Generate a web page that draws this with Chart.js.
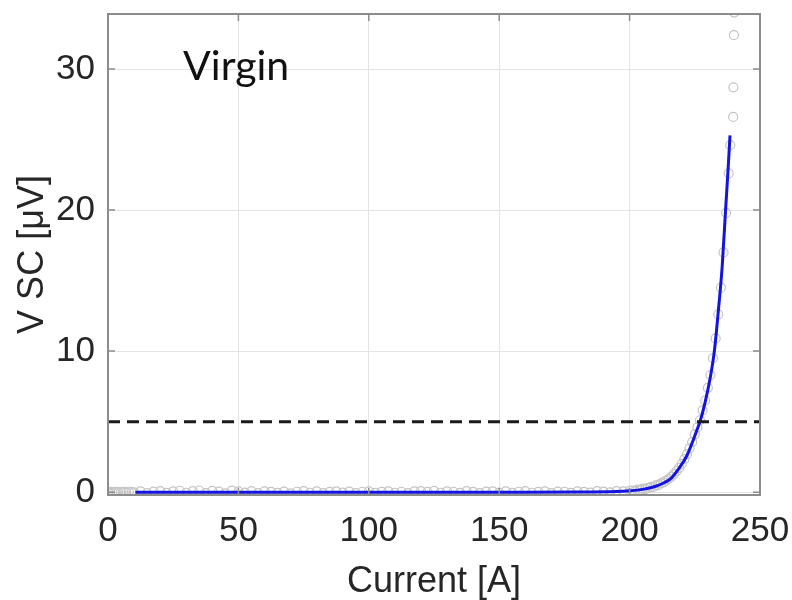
<!DOCTYPE html>
<html>
<head>
<meta charset="utf-8">
<script src="https://cdn.jsdelivr.net/npm/chart.js@4.4.1/dist/chart.umd.min.js"></script>
<style>
    html, body { margin: 0; padding: 0; background: #ffffff; }
    #wrap { width: 792px; height: 600px; }
</style>
</head>
<body>
<div id="wrap"><canvas id="vscChart" width="792" height="600"></canvas></div>
<script>
// Measured points (grey circles)
const measI = [
    0, 0.8, 1.6, 2.4, 3.2, 4, 5, 6, 7, 8, 9, 10,
    12.5, 15, 17.5, 20, 22.5, 25, 27.5, 30, 32.5, 35, 37.5, 40, 42.5, 45, 47.5, 50,
    52.5, 55, 57.5, 60, 62.5, 65, 67.5, 70, 72.5, 75, 77.5, 80, 82.5, 85, 87.5, 90,
    92.5, 95, 97.5, 100, 102.5, 105, 107.5, 110, 112.5, 115, 117.5, 120, 122.5, 125,
    127.5, 130, 132.5, 135, 137.5, 140, 142.5, 145, 147.5, 150, 152.5, 155, 157.5, 160,
    162.5, 165, 167.5, 170, 172.5, 175, 177.5, 180, 182.5, 185, 187.5, 190, 192.5, 195,
    197.5, 200,
    201, 202, 203, 204, 205, 206, 207, 208, 209, 210, 211, 212, 213, 214, 215, 216,
    217, 218, 219, 220, 221, 222, 223, 224, 225, 226, 227, 228, 229, 230, 231, 232,
    233, 234, 235, 236, 237, 238, 238.6, 239.7, 239.8, 240, 240.1
];
const measV = [
    0.0, 0.02, -0.03, 0.01, 0.03, -0.02, 0.0, 0.02, -0.04, 0.03, 0.0, -0.02,
    0.05, -0.06, 0.04, 0.08, -0.05, 0.06, 0.1, -0.04, 0.07, 0.12, -0.06, 0.09, 0.04, -0.08, 0.11, 0.05,
    -0.03, 0.08, -0.07, 0.06, 0.02, -0.05, 0.04, -0.09, 0.03, 0.07, -0.04, 0.05, -0.06, 0.02, 0.06, -0.03,
    0.04, -0.07, 0.03, 0.05, -0.05, 0.02, 0.06, -0.04, 0.03, -0.06, 0.05, 0.08, 0.02, 0.09,
    -0.04, 0.06, 0.03, -0.05, 0.07, 0.02, -0.06, 0.04, 0.05, -0.03, 0.06, -0.05, 0.03, 0.07,
    -0.04, 0.02, 0.05, -0.06, 0.04, 0.03, -0.05, 0.06, 0.02, -0.03, 0.07, 0.04, -0.02, 0.08,
    0.05, 0.1,
    0.12, 0.08, 0.18, 0.15, 0.25, 0.22, 0.3, 0.36, 0.35, 0.48, 0.5, 0.62, 0.7, 0.82, 0.95, 1.1,
    1.28, 1.5, 1.72, 2.0, 2.35, 2.7, 3.1, 3.55, 4.1, 4.6, 5.1, 5.8, 6.5, 7.4, 8.3, 9.5,
    10.9, 12.6, 14.5, 17.0, 19.8, 22.6, 24.6, 26.6, 28.7, 32.4, 34.0
];

// Fit curve (blue line)
const fitI = [10.5, 50, 100, 150, 180, 195, 200, 205, 210, 213, 216, 219, 222, 224, 226, 227, 229, 231, 232.5, 234, 235.5, 236.8, 237.8, 238.5];
const fitV = [0, 0, 0, 0, 0.01, 0.05, 0.1, 0.2, 0.42, 0.65, 1.0, 1.7, 2.6, 3.5, 4.5, 5.0, 6.4, 8.2, 10.0, 12.8, 16.0, 20.0, 23.0, 25.3];

// 5 uV criterion (dashed)
const critI = [0, 250];
const critV = [5, 5];

// Axis ticks
const xTicks = [0, 50, 100, 150, 200, 250];
const yTicks = [0, 10, 20, 30];

const TEXT_COLOR = '#262626';
const BOX_COLOR = '#8c8c8c';
const TICK_FONT = { family: 'Liberation Sans', size: 35 };
const TITLE_FONT = { family: 'Liberation Sans', size: 36, lineHeight: 1 };

const toXY = (xs, ys) => xs.map((x, i) => ({ x: x, y: ys[i] }));

// keep the plot box where it is in the figure
const noScalePadding = s => {
    s.paddingTop = 0; s.paddingBottom = 0;
    s.paddingLeft = 0; s.paddingRight = 0;
};

// Box on all sides, inward tick marks, "Virgin" label
const matlabBox = {
    id: 'matlabBox',
    afterDatasetsDraw(chart) {
        const { ctx, chartArea: a, scales: { x, y } } = chart;
        ctx.save();
        ctx.strokeStyle = BOX_COLOR;
        ctx.lineWidth = 2;
        ctx.strokeRect(a.left, a.top, a.right - a.left, a.bottom - a.top);
        ctx.lineWidth = 1.5;
        ctx.beginPath();
        xTicks.forEach(v => {
            const px = x.getPixelForValue(v);
            ctx.moveTo(px, a.bottom); ctx.lineTo(px, a.bottom - 7);
            ctx.moveTo(px, a.top); ctx.lineTo(px, a.top + 7);
        });
        yTicks.forEach(v => {
            const py = y.getPixelForValue(v);
            ctx.moveTo(a.left, py); ctx.lineTo(a.left + 7, py);
            ctx.moveTo(a.right, py); ctx.lineTo(a.right - 7, py);
        });
        ctx.stroke();

        ctx.fillStyle = '#111111';
        ctx.font = '41px Lato';
        ctx.textAlign = 'left';
        ctx.textBaseline = 'alphabetic';
        ctx.fillText('Virgin', x.getPixelForValue(28.8), y.getPixelForValue(29.2));
        ctx.restore();
    }
};

new Chart(document.getElementById('vscChart').getContext('2d'), {
    type: 'scatter',
    data: {
        datasets: [
            {
                label: 'Measured',
                data: toXY(measI, measV),
                pointStyle: 'circle',
                pointRadius: 4.5,
                pointBorderWidth: 1.2,
                pointBorderColor: '#c4c4c4',
                pointBackgroundColor: 'transparent',
                showLine: false,
                order: 3
            },
            {
                label: 'Fit',
                data: toXY(fitI, fitV),
                showLine: true,
                borderColor: '#1414e0',
                borderWidth: 3,
                pointRadius: 0,
                cubicInterpolationMode: 'monotone',
                order: 2
            },
            {
                label: 'Criterion',
                data: toXY(critI, critV),
                showLine: true,
                borderColor: '#1a1a1a',
                borderWidth: 3,
                borderDash: [12, 7],
                pointRadius: 0,
                order: 1
            }
        ]
    },
    options: {
        responsive: false,
        animation: false,
        layout: { padding: { top: 14, right: 32, left: 0, bottom: 0 } },
        plugins: {
            legend: { display: false },
            tooltip: { enabled: false }
        },
        scales: {
            x: {
                type: 'linear',
                min: 0,
                max: 250,
                afterBuildTicks: s => { s.ticks = xTicks.map(v => ({ value: v })); },
                afterFit: s => { s.height = 105; noScalePadding(s); },
                grid: { color: '#e4e4e4', drawTicks: false },
                border: { display: false },
                ticks: { color: TEXT_COLOR, font: TICK_FONT, padding: 15, maxRotation: 0 },
                title: { display: true, text: 'Current [A]', color: TEXT_COLOR, font: TITLE_FONT, padding: { top: 0, bottom: 0 } }
            },
            y: {
                type: 'linear',
                min: -0.2,
                max: 33.9,
                afterBuildTicks: s => { s.ticks = yTicks.map(v => ({ value: v })); },
                afterFit: s => { s.width = 108; noScalePadding(s); },
                grid: { color: '#e4e4e4', drawTicks: false },
                border: { display: false },
                ticks: { color: TEXT_COLOR, font: TICK_FONT, padding: 13 },
                title: { display: true, text: 'V SC [μV]', color: TEXT_COLOR, font: TITLE_FONT, padding: { top: 15, bottom: 0 } }
            }
        }
    },
    plugins: [matlabBox]
});
</script>
</body>
</html>
